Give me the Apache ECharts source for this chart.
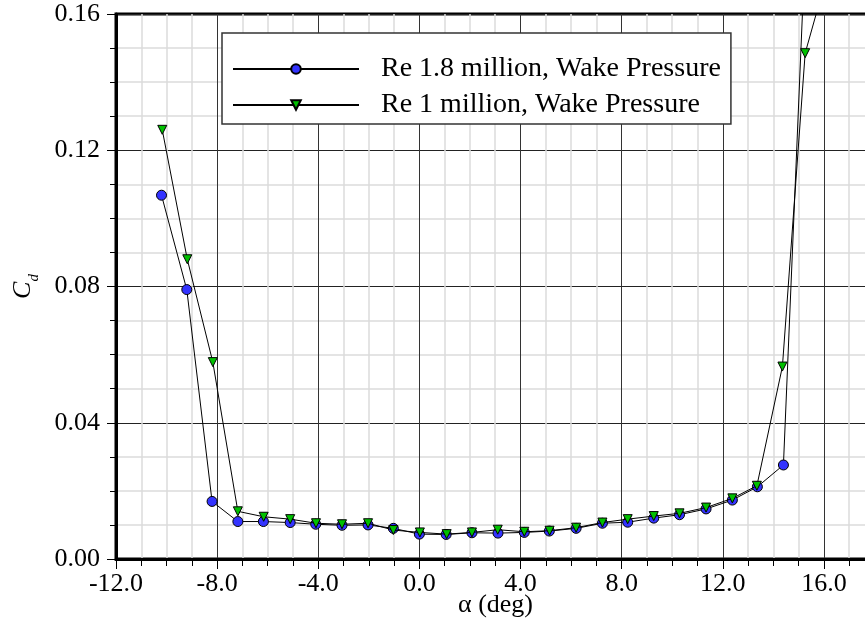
<!DOCTYPE html>
<html>
<head>
<meta charset="utf-8">
<script src="https://cdn.jsdelivr.net/npm/echarts@6/dist/echarts.min.js"></script>
<style>
  html, body { margin: 0; padding: 0; background: #fff; }
  #main { width: 865px; height: 629px; }
</style>
</head>
<body>
<div id="main"></div>
<script>
// Re 1.8 million, wake pressure
var alphaHi = [-10.2, -9.2, -8.2, -7.18, -6.17, -5.11, -4.1, -3.06, -2.03, -1.03, 0.0, 1.06, 2.08, 3.11, 4.15, 5.14, 6.2, 7.24, 8.24, 9.27, 10.29, 11.34, 12.38, 13.37, 14.4, 15.35]
var cdHi = [0.1068, 0.0791, 0.0169, 0.0110, 0.0110, 0.0107, 0.0102, 0.0099, 0.0100, 0.0090, 0.0073, 0.0072, 0.0077, 0.0076, 0.0078, 0.0082, 0.0090, 0.0105, 0.0108, 0.0120, 0.0130, 0.0147, 0.0173, 0.0212, 0.0276, 0.195]

// Re 1 million, wake pressure
var alphaLo = [-10.17, -9.18, -8.17, -7.18, -6.16, -5.11, -4.09, -3.06, -2.03, -1.03, 0.02, 1.08, 2.08, 3.1, 4.15, 5.15, 6.2, 7.24, 8.24, 9.27, 10.29, 11.34, 12.38, 13.35, 14.36, 15.26, 16.3]
var cdLo = [0.126, 0.088, 0.0578, 0.0140, 0.0124, 0.0117, 0.0105, 0.0102, 0.0105, 0.0085, 0.0078, 0.0073, 0.0078, 0.0086, 0.0080, 0.0083, 0.0092, 0.0107, 0.0117, 0.0126, 0.0134, 0.0151, 0.0178, 0.0215, 0.0565, 0.1485, 0.176]

var seriesNames = ['Re 1.8 million, Wake Pressure', 'Re 1 million, Wake Pressure']

function pairs (xs, ys) {
  var out = []
  for (var i = 0; i < xs.length; i++) out.push([xs[i], ys[i]])
  return out
}

var FONT = '"Liberation Serif", "Times New Roman", serif'
var chart = echarts.init(document.getElementById('main'))

chart.setOption({
  animation: false,
  textStyle: { fontFamily: FONT },
  grid: {
    left: 116, top: 14, right: -60, bottom: 70,
    outerBoundsMode: 'none',
    containLabel: false,
    show: true, borderColor: '#000', borderWidth: 3
  },
  legend: {
    orient: 'vertical',
    left: 222, top: 33,
    padding: [22, 10, 5, 10],
    itemGap: 8,
    itemWidth: 126,
    itemHeight: 12,
    backgroundColor: '#fff',
    borderColor: '#333',
    borderWidth: 1.5,
    borderRadius: 0,
    textStyle: { fontFamily: FONT, fontSize: 28, color: '#000', lineHeight: 26, padding: [0, 0, 0, 17] },
    data: seriesNames
  },
  xAxis: {
    type: 'value',
    min: -12, max: 20, interval: 4,
    name: 'α (deg)',
    nameLocation: 'middle',
    nameGap: 33,
    nameMoveOverlap: false,
    nameTextStyle: { fontFamily: FONT, fontSize: 26, color: '#000', padding: [0, 50, 0, 0] },
    axisLine: { onZero: false, lineStyle: { color: '#000', width: 3 } },
    axisTick: { show: true, inside: false, length: 10, lineStyle: { color: '#000', width: 1 } },
    minorTick: { show: true, splitNumber: 4, length: 7, lineStyle: { color: '#000', width: 1 } },
    axisLabel: {
      fontFamily: FONT, fontSize: 26, color: '#000', margin: 12,
      showMaxLabel: false,
      formatter: function (v) { return v.toFixed(1) }
    },
    splitLine: { show: true, lineStyle: { color: '#333', width: 1 } },
    minorSplitLine: { show: true, lineStyle: { color: '#dcdcdc', width: 1.5 } }
  },
  yAxis: {
    type: 'value',
    min: 0, max: 0.16, interval: 0.04,
    name: '{c|C}{s|d}',
    nameLocation: 'middle',
    nameRotate: 90,
    nameGap: 80,
    nameMoveOverlap: false,
    nameTextStyle: {
      rich: {
        c: { fontFamily: FONT, fontStyle: 'italic', fontSize: 26, color: '#000' },
        s: { fontFamily: FONT, fontStyle: 'italic', fontSize: 15, color: '#000', verticalAlign: 'bottom', padding: [0, 0, -6, 0] }
      }
    },
    axisLine: { onZero: false, lineStyle: { color: '#000', width: 3 } },
    axisTick: { show: true, inside: false, length: 9, lineStyle: { color: '#000', width: 1 } },
    minorTick: { show: true, splitNumber: 4, length: 6, lineStyle: { color: '#000', width: 1 } },
    axisLabel: {
      fontFamily: FONT, fontSize: 26, color: '#000', margin: 16,
      formatter: function (v) { return v.toFixed(2) }
    },
    splitLine: { show: true, lineStyle: { color: '#222', width: 1 } },
    minorSplitLine: { show: true, lineStyle: { color: '#dcdcdc', width: 1.5 } }
  },
  series: [
    {
      name: seriesNames[0],
      type: 'line',
      data: pairs(alphaHi, cdHi),
      symbol: 'circle',
      symbolSize: 10,
      lineStyle: { color: '#000', width: 1 },
      itemStyle: { color: '#3333ff', borderColor: '#000', borderWidth: 1 },
      z: 3
    },
    {
      name: seriesNames[1],
      type: 'line',
      data: pairs(alphaLo, cdLo),
      symbol: 'triangle',
      symbolRotate: 180,
      symbolSize: 9,
      lineStyle: { color: '#000', width: 1 },
      itemStyle: { color: '#00c000', borderColor: '#000', borderWidth: 1 },
      z: 4
    }
  ]
})
</script>
</body>
</html>
